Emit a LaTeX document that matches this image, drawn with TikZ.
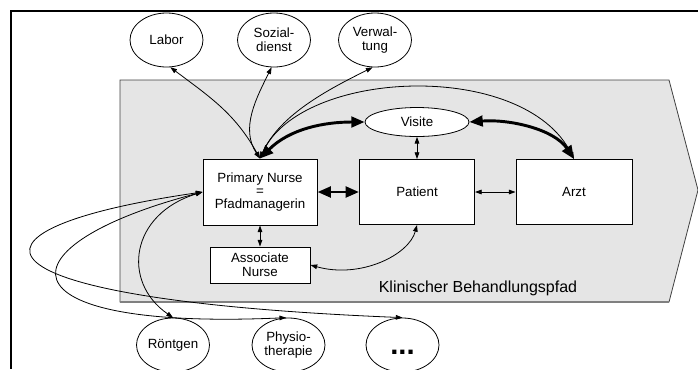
\documentclass[tikz,border=0pt]{standalone}
\usepackage{fontspec}
\setmainfont{Liberation Sans}
\usetikzlibrary{arrows.meta,shapes.geometric}
\begin{document}
\begin{tikzpicture}[x=0.75pt,y=-0.75pt,
  every node/.style={font=\fontsize{10}{10.5}\selectfont, align=center},
  oval/.style={ellipse, draw, fill=white, line width=0.6pt, inner sep=0pt, minimum width=54.75pt, minimum height=40.5pt},
  box/.style={draw, fill=white, line width=0.75pt, inner sep=0pt},
  tarr/.style={line width=0.6pt, {Triangle[length=5pt,width=3.5pt]}-{Triangle[length=5pt,width=3.5pt]}},
  barr/.style={line width=2.2pt, {Triangle[length=10pt,width=8pt]}-{Triangle[length=10pt,width=8pt]}},
]
\useasboundingbox (0,0) rectangle (698,369);
\draw[line width=1.5pt] (698,10.5) -- (11,10.5) -- (11,369);
\draw[fill=gray!20, draw=black!75, line width=0.6pt] (120,80) -- (669,80) -- (698,190) -- (669,302) -- (120,302) -- cycle;
\draw[gray, line width=1.2pt] (120,302) -- (669,302);

\node[oval] (labor) at (166.5,40) {Labor};
\node[oval] (sozial) at (274,40) {Sozial-\\dienst};
\node[oval] (verw) at (375,40) {Verwal-\\tung};
\node[ellipse, draw, fill=white, line width=0.6pt, inner sep=0pt, minimum width=78pt, minimum height=21.75pt] (visite) at (417,122) {Visite};
\node[box, minimum width=85.5pt, minimum height=49.5pt, font=\fontsize{10}{9.6}\selectfont] (pn) at (260,192) {Primary Nurse\\=\\Pfadmanagerin};
\node[box, minimum width=86.25pt, minimum height=48.75pt] (pat) at (417,192) {Patient};
\node[box, minimum width=87pt, minimum height=48.75pt] (arzt) at (574,192) {Arzt};
\node[box, minimum width=75pt, minimum height=27pt] (an) at (260,265) {Associate\\Nurse};
\node[oval] (roent) at (173,345) {Röntgen};
\node[oval] (physio) at (288.5,345) {Physio-\\therapie};
\node[oval] (dots) at (402.5,345) {\fontsize{22}{22}\selectfont\bfseries\rule{0pt}{14pt}...};
\node[font=\fontsize{12}{13}\selectfont] (title) at (478,288) {Klinischer Behandlungspfad};

\draw[tarr] (labor.-82) .. controls +(40,30) and +(-25,-45) .. (pn.north);
\draw[tarr] (sozial.-95) .. controls +(-15,30) and +(-20,-30) .. (pn.north);
\draw[tarr] (verw.-95) .. controls +(-40,20) and +(20,-45) .. (pn.north);
\draw[tarr] (pn.north) .. controls +(40,-90) and +(-50,-100) .. (arzt.north);
\draw[barr] (pn.north) .. controls +(30,-30) and +(-40,0) .. (visite.west);
\draw[barr] (visite.east) .. controls +(40,-3) and +(-20,-30) .. (arzt.north);
\draw[tarr] (visite.south) -- (pat.north);
\draw[barr] (pn.east) -- (pat.west);
\draw[tarr] (pat.east) -- (arzt.west);
\draw[tarr] (pn.south) -- (an.north);
\draw[tarr] (an.east) .. controls +(50,14) and +(-8,30) .. (pat.south);
\draw[tarr] (pn.west) .. controls +(-72,22) and +(-52,-36) .. (roent.north);
\draw[tarr] (pn.west) .. controls +(-203,53) and +(-293,13) .. (physio.95);
\draw[tarr] (pn.west) .. controls +(-263,38) and +(-442.5,-18) .. (dots.north);
\end{tikzpicture}
\end{document}
